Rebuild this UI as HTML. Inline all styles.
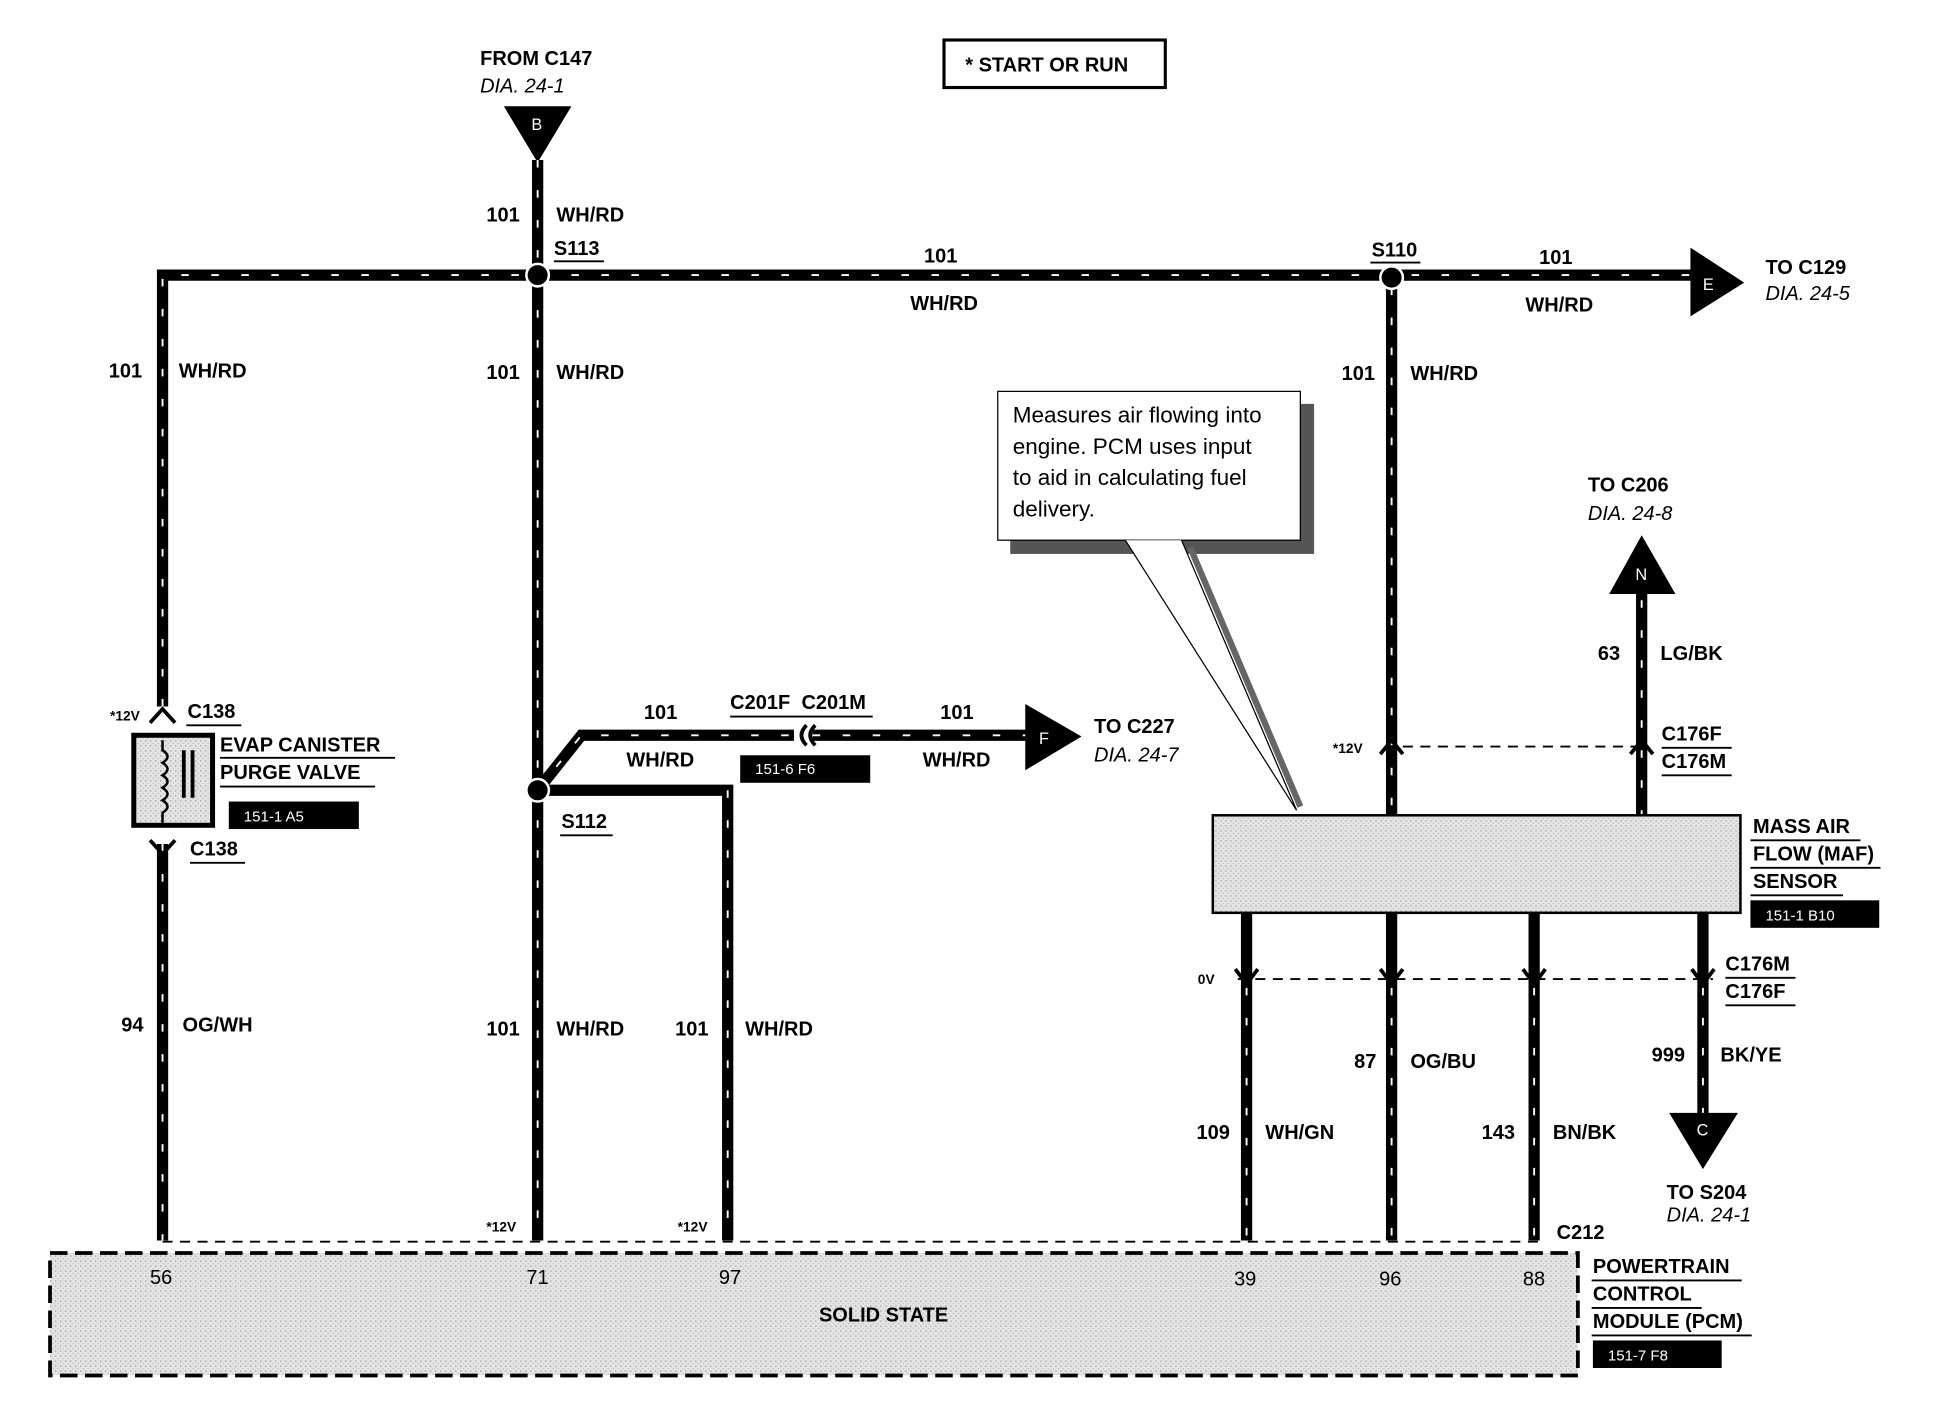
<!DOCTYPE html>
<html><head><meta charset="utf-8"><style>
html,body{margin:0;padding:0;background:#fff;}
svg{display:block}
text{font-family:"Liberation Sans",Arial,sans-serif;font-weight:bold;font-size:16px;fill:#000}
.i{font-style:italic;font-weight:normal}
.n{font-weight:normal}
.w{stroke:#000;stroke-width:9;fill:none}
.d{stroke:#fff;stroke-width:1.5;stroke-dasharray:6 18;fill:none}
</style></head><body>
<svg width="1958" height="1408" viewBox="0 0 1566 1126" preserveAspectRatio="none">
<defs>
<pattern id="g" width="4" height="4" patternUnits="userSpaceOnUse"><rect width="4" height="4" fill="#e4e4e4"/><rect width="1" height="1" fill="#999"/><rect x="2" y="2" width="1" height="1" fill="#bbb"/></pattern>
</defs>
<rect x="755" y="32" width="177" height="38" fill="none" stroke="#000" stroke-width="2.5"/>
<text x="772" y="57">* START OR RUN</text>
<text x="384" y="52">FROM C147</text>
<text x="384" y="74" class="i">DIA. 24-1</text>
<polygon points="403,85 457,85 430,130" fill="#000"/>
<text x="425" y="104" class="n" style="fill:#fff;font-size:13px">B</text>
<path class="w" d="M130,565 V220 H1360"/>
<path class="d" d="M130,565 V220 H1360"/>
<path class="w" d="M430,128 V992"/><path class="d" d="M430,128 V992"/>
<path class="w" d="M430,632 L465,588 H635"/><path class="d" d="M430,632 L465,588 H635"/>
<path class="w" d="M650,588 H825"/><path class="d" d="M650,588 H825"/>
<path class="w" d="M430,632 H582 V992"/><path class="d" d="M582,632 V992"/>
<path class="w" d="M130,675 V992"/><path class="d" d="M130,675 V992"/>
<path class="w" d="M1113,220 V652"/><path class="d" d="M1113,230 V652"/>
<path class="w" d="M1313,470 V652"/><path class="d" d="M1313,480 V652"/>
<path class="w" d="M997,730 V992 M1113,730 V992 M1227,730 V992 M1362,730 V895"/>
<path class="d" d="M997,790 V992 M1113,790 V992 M1227,790 V992 M1362,790 V895"/>
<circle cx="430" cy="220" r="9" fill="#000" stroke="#fff" stroke-width="2"/>
<circle cx="1113" cy="222" r="9" fill="#000" stroke="#fff" stroke-width="2"/>
<circle cx="430" cy="632" r="9" fill="#000" stroke="#fff" stroke-width="2"/>
<polygon points="1352,198 1395,226 1352,253" fill="#000"/><text x="1362" y="232" class="n" style="fill:#fff;font-size:13px">E</text>
<polygon points="820,563 865,589 820,616" fill="#000"/><text x="831" y="595" class="n" style="fill:#fff;font-size:13px">F</text>
<polygon points="1287,475 1313,428 1340,475" fill="#000"/><text x="1308" y="464" class="n" style="fill:#fff;font-size:13px">N</text>
<polygon points="1335,890 1390,890 1362,935" fill="#000"/><text x="1357" y="908" class="n" style="fill:#fff;font-size:13px">C</text>
<path d="M645,580 Q637,588 645,596 M652,580 Q644,588 652,596" stroke="#000" stroke-width="3" fill="none"/>
<path d="M1108,597 H1318 M990,783 H1370 M130,993 H1232" stroke="#000" stroke-width="1.5" stroke-dasharray="8 6" fill="none"/>
<path d="M1104,603 L1113,592 L1122,603 M1304,603 L1313,592 L1322,603" stroke="#000" stroke-width="3" fill="none"/>
<path d="M988,775 L997,787 L1006,775 M1104,775 L1113,787 L1122,775 M1218,775 L1227,787 L1236,775 M1353,775 L1362,787 L1371,775" stroke="#000" stroke-width="3" fill="none"/>
<path d="M120,578 L130,567 L140,578 M120,672 L130,683 L140,672" stroke="#000" stroke-width="3" fill="none"/>
<rect x="107" y="588" width="63" height="72" fill="url(#g)" stroke="#000" stroke-width="4"/>
<path d="M130,592 v8 q8,5 0,10 q8,5 0,10 q8,5 0,10 q8,5 0,10 q8,5 0,10 v8" stroke="#000" stroke-width="2" fill="none"/>
<path d="M147,600 v38 M154,600 v38" stroke="#000" stroke-width="3"/>
<rect x="970" y="652" width="422" height="78" fill="url(#g)" stroke="#000" stroke-width="2"/>
<rect x="40" y="1002" width="1222" height="98" fill="url(#g)" stroke="#000" stroke-width="3" stroke-dasharray="14 6"/>
<text x="655" y="1057">SOLID STATE</text>
<rect x="808" y="323" width="243" height="120" fill="#555"/>
<rect x="798" y="313" width="242" height="119" fill="#fff" stroke="#000" stroke-width="1"/>
<path d="M900,432 L1037,648 L945,432" stroke="#000" stroke-width="1" fill="#fff"/>
<path d="M952,438 L1040,645" stroke="#666" stroke-width="5"/>
<text x="810" y="338" class="n" style="font-size:18px">Measures air flowing into</text>
<text x="810" y="363" class="n" style="font-size:18px">engine. PCM uses input</text>
<text x="810" y="388" class="n" style="font-size:18px">to aid in calculating fuel</text>
<text x="810" y="413" class="n" style="font-size:18px">delivery.</text>
<rect x="183" y="641" width="104" height="22" fill="#000"/><text x="195" y="657" class="n" style="fill:#fff;font-size:12px">151-1 A5</text>
<rect x="592" y="604" width="104" height="22" fill="#000"/><text x="604" y="619" class="n" style="fill:#fff;font-size:12px">151-6 F6</text>
<rect x="1400" y="720" width="103" height="22" fill="#000"/><text x="1412" y="736" class="n" style="fill:#fff;font-size:12px">151-1 B10</text>
<rect x="1274" y="1072" width="103" height="22" fill="#000"/><text x="1286" y="1088" class="n" style="fill:#fff;font-size:12px">151-7 F8</text>
<g>
<text x="389" y="177">101</text><text x="445" y="177">WH/RD</text>
<text x="443" y="204">S113</text><path d="M443,209 h40" stroke="#000" stroke-width="1.5"/>
<text x="739" y="210">101</text><text x="728" y="248">WH/RD</text>
<text x="1097" y="205">S110</text><path d="M1096,210 h40" stroke="#000" stroke-width="1.5"/>
<text x="1231" y="211">101</text><text x="1220" y="249">WH/RD</text>
<text x="1412" y="219">TO C129</text><text x="1412" y="240" class="i">DIA. 24-5</text>
<text x="87" y="302">101</text><text x="143" y="302">WH/RD</text>
<text x="389" y="303">101</text><text x="445" y="303">WH/RD</text>
<text x="1073" y="304">101</text><text x="1128" y="304">WH/RD</text>
<text x="1270" y="393">TO C206</text><text x="1270" y="416" class="i">DIA. 24-8</text>
<text x="1278" y="528">63</text><text x="1328" y="528">LG/BK</text>
<text x="88" y="576" style="font-size:11px">*12V</text>
<text x="150" y="574">C138</text><path d="M149,580 h44" stroke="#000" stroke-width="1.5"/>
<text x="176" y="601">EVAP CANISTER</text><path d="M176,606 h140" stroke="#000" stroke-width="1.5"/>
<text x="176" y="623">PURGE VALVE</text><path d="M176,629 h124" stroke="#000" stroke-width="1.5"/>
<text x="152" y="684">C138</text><path d="M152,690 h44" stroke="#000" stroke-width="1.5"/>
<text x="515" y="575">101</text><text x="501" y="613">WH/RD</text>
<text x="584" y="567">C201F</text><text x="641" y="567">C201M</text><path d="M584,573 h114" stroke="#000" stroke-width="1.5"/>
<text x="752" y="575">101</text><text x="738" y="613">WH/RD</text>
<text x="875" y="586">TO C227</text><text x="875" y="609" class="i">DIA. 24-7</text>
<text x="449" y="662">S112</text><path d="M448,668 h42" stroke="#000" stroke-width="1.5"/>
<text x="1066" y="602" style="font-size:11px">*12V</text>
<text x="1329" y="592">C176F</text><path d="M1329,598 h56" stroke="#000" stroke-width="1.5"/>
<text x="1329" y="614">C176M</text><path d="M1329,620 h56" stroke="#000" stroke-width="1.5"/>
<text x="1402" y="666">MASS AIR</text><path d="M1400,672 h88" stroke="#000" stroke-width="1.5"/>
<text x="1402" y="688">FLOW (MAF)</text><path d="M1400,694 h104" stroke="#000" stroke-width="1.5"/>
<text x="1402" y="710">SENSOR</text><path d="M1400,716 h74" stroke="#000" stroke-width="1.5"/>
<text x="1380" y="776">C176M</text><path d="M1380,782 h56" stroke="#000" stroke-width="1.5"/>
<text x="1380" y="798">C176F</text><path d="M1380,804 h56" stroke="#000" stroke-width="1.5"/>
<text x="958" y="787" style="font-size:11px">0V</text>
<text x="97" y="825">94</text><text x="146" y="825">OG/WH</text>
<text x="389" y="828">101</text><text x="445" y="828">WH/RD</text>
<text x="540" y="828">101</text><text x="596" y="828">WH/RD</text>
<text x="1083" y="854">87</text><text x="1128" y="854">OG/BU</text>
<text x="1321" y="849">999</text><text x="1376" y="849">BK/YE</text>
<text x="957" y="911">109</text><text x="1012" y="911">WH/GN</text>
<text x="1185" y="911">143</text><text x="1242" y="911">BN/BK</text>
<text x="1333" y="959">TO S204</text><text x="1333" y="977" class="i">DIA. 24-1</text>
<text x="389" y="985" style="font-size:11px">*12V</text>
<text x="542" y="985" style="font-size:11px">*12V</text>
<text x="1245" y="991">C212</text>
<text x="120" y="1027" class="n">56</text><text x="421" y="1027" class="n">71</text><text x="575" y="1027" class="n">97</text>
<text x="987" y="1028" class="n">39</text><text x="1103" y="1028" class="n">96</text><text x="1218" y="1028" class="n">88</text>
<text x="1274" y="1018">POWERTRAIN</text><path d="M1273,1024 h120" stroke="#000" stroke-width="1.5"/>
<text x="1274" y="1040">CONTROL</text><path d="M1273,1046 h88" stroke="#000" stroke-width="1.5"/>
<text x="1274" y="1062">MODULE (PCM)</text><path d="M1273,1068 h128" stroke="#000" stroke-width="1.5"/>
</g>
</svg>
</body></html>
